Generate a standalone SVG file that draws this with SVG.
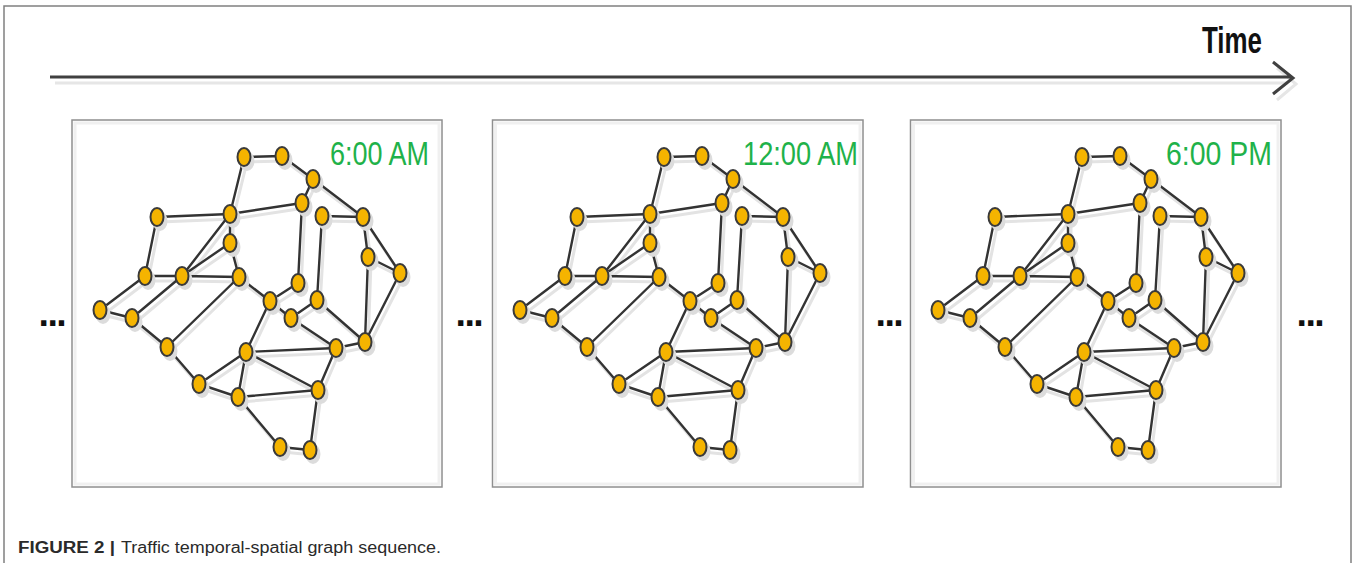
<svg xmlns="http://www.w3.org/2000/svg" xmlns:xlink="http://www.w3.org/1999/xlink" width="1359" height="563" viewBox="0 0 1359 563">
<style>
.frame{fill:none;stroke:#808080;stroke-width:1.5}
.panel{fill:#fff;stroke:#8f8f8f;stroke-width:1.5}
.panel-in{fill:none;stroke:#f0f0f0;stroke-width:3}
.edge{fill:none;stroke:#333;stroke-width:2.4;stroke-linecap:round}
.eshadow{fill:none;stroke:#e3e3e3;stroke-width:3;stroke-linecap:round}
.lbl{font-family:"Liberation Sans Narrow","Liberation Sans",sans-serif;font-size:34px;fill:#1fb24a}
.dots{font-family:"DejaVu Sans","Liberation Sans",sans-serif;font-weight:bold;font-size:30px;fill:#111;letter-spacing:-2.5px}
.time{font-family:"Liberation Sans Narrow","Liberation Sans",sans-serif;font-weight:bold;font-size:36px;fill:#111}
.cap{font-family:"Liberation Sans",Arial,sans-serif;font-size:16px;fill:#2a2a2a}
</style>
<defs>
<g id="nd">
<ellipse cx="3" cy="4" rx="7.5" ry="10" fill="#dcdcdc"/>
<ellipse cx="0" cy="0" rx="6.5" ry="9" fill="#f5b400" stroke="#3a3a3a" stroke-width="2"/>
</g>
<path id="edges" d="M244 157L282 156M244 157L230 214M282 156L313 179M313 179L302 203M313 179L363 217M157 217L230 214M230 214L302 203M302 203L298 283M322 216L363 217M322 216L317 300M363 217L368 257M363 217L400 273M368 257L400 273M368 257L365 342M400 273L365 342M157 217L145 276M145 276L182 276M182 276L239 277M182 276L230 214M182 276L230 243M230 214L230 243M230 243L239 277M239 277L270 301M145 276L100 310M100 310L132 318M182 276L132 318M132 318L167 347M167 347L239 277M167 347L199 384M199 384L246 352M199 384L238 397M246 352L270 301M246 352L238 397M246 352L336 348M246 352L318 390M238 397L318 390M238 397L280 447M280 447L310 450M310 450L318 390M318 390L336 348M336 348L365 342M291 318L336 348M317 300L365 342M317 300L291 318M270 301L298 283M270 301L291 318"/>
</defs>
<rect x="0" y="0" width="1359" height="563" fill="#fff"/>
<path class="frame" d="M4 563V6H1351V563"/>

<g id="time-axis">
<path d="M55 83H1288M1277 68L1296 84L1277 100" fill="none" stroke="#e6e6e6" stroke-width="3"/>
<path d="M50 77H1292M1273 62L1293 78L1273 94" fill="none" stroke="#404040" stroke-width="3"/>
<text class="time" x="1202" y="53" textLength="60" lengthAdjust="spacingAndGlyphs">Time</text>
</g>

<g id="panels">
<rect class="panel" x="72" y="120" width="370" height="367"/>
<rect class="panel-in" x="75" y="123" width="364" height="361"/>
<rect class="panel" x="492.5" y="120" width="370.5" height="367"/>
<rect class="panel-in" x="495.5" y="123" width="364.5" height="361"/>
<rect class="panel" x="910.5" y="120" width="370.5" height="367"/>
<rect class="panel-in" x="913.5" y="123" width="364.5" height="361"/>
</g>

<g id="connectors">
<use href="#edges" class="eshadow" transform="translate(3,5)"/>
<use href="#edges" class="edge"/>
<use href="#edges" class="eshadow" transform="translate(423,5)"/>
<use href="#edges" class="edge" transform="translate(420,0)"/>
<use href="#edges" class="eshadow" transform="translate(841,5)"/>
<use href="#edges" class="edge" transform="translate(838,0)"/>
</g>

<g id="graph-1">
<g id="p1-n1"><use href="#nd" x="244" y="157"/></g>
<g id="p1-n2"><use href="#nd" x="282" y="156"/></g>
<g id="p1-n3"><use href="#nd" x="313" y="179"/></g>
<g id="p1-n4"><use href="#nd" x="302" y="203"/></g>
<g id="p1-n5"><use href="#nd" x="322" y="216"/></g>
<g id="p1-n6"><use href="#nd" x="363" y="217"/></g>
<g id="p1-n7"><use href="#nd" x="368" y="257"/></g>
<g id="p1-n8"><use href="#nd" x="400" y="273"/></g>
<g id="p1-n9"><use href="#nd" x="157" y="217"/></g>
<g id="p1-n10"><use href="#nd" x="230" y="214"/></g>
<g id="p1-n11"><use href="#nd" x="230" y="243"/></g>
<g id="p1-n12"><use href="#nd" x="145" y="276"/></g>
<g id="p1-n13"><use href="#nd" x="182" y="276"/></g>
<g id="p1-n14"><use href="#nd" x="239" y="277"/></g>
<g id="p1-n15"><use href="#nd" x="298" y="283"/></g>
<g id="p1-n16"><use href="#nd" x="270" y="301"/></g>
<g id="p1-n17"><use href="#nd" x="317" y="300"/></g>
<g id="p1-n18"><use href="#nd" x="291" y="318"/></g>
<g id="p1-n19"><use href="#nd" x="100" y="310"/></g>
<g id="p1-n20"><use href="#nd" x="132" y="318"/></g>
<g id="p1-n21"><use href="#nd" x="167" y="347"/></g>
<g id="p1-n22"><use href="#nd" x="199" y="384"/></g>
<g id="p1-n23"><use href="#nd" x="238" y="397"/></g>
<g id="p1-n24"><use href="#nd" x="246" y="352"/></g>
<g id="p1-n25"><use href="#nd" x="336" y="348"/></g>
<g id="p1-n26"><use href="#nd" x="365" y="342"/></g>
<g id="p1-n27"><use href="#nd" x="318" y="390"/></g>
<g id="p1-n28"><use href="#nd" x="280" y="447"/></g>
<g id="p1-n29"><use href="#nd" x="310" y="450"/></g>
<text class="lbl" x="330" y="165" textLength="99" lengthAdjust="spacingAndGlyphs">6:00 AM</text>
</g>

<g id="graph-2" transform="translate(420,0)">
<g id="p2-n1"><use href="#nd" x="244" y="157"/></g>
<g id="p2-n2"><use href="#nd" x="282" y="156"/></g>
<g id="p2-n3"><use href="#nd" x="313" y="179"/></g>
<g id="p2-n4"><use href="#nd" x="302" y="203"/></g>
<g id="p2-n5"><use href="#nd" x="322" y="216"/></g>
<g id="p2-n6"><use href="#nd" x="363" y="217"/></g>
<g id="p2-n7"><use href="#nd" x="368" y="257"/></g>
<g id="p2-n8"><use href="#nd" x="400" y="273"/></g>
<g id="p2-n9"><use href="#nd" x="157" y="217"/></g>
<g id="p2-n10"><use href="#nd" x="230" y="214"/></g>
<g id="p2-n11"><use href="#nd" x="230" y="243"/></g>
<g id="p2-n12"><use href="#nd" x="145" y="276"/></g>
<g id="p2-n13"><use href="#nd" x="182" y="276"/></g>
<g id="p2-n14"><use href="#nd" x="239" y="277"/></g>
<g id="p2-n15"><use href="#nd" x="298" y="283"/></g>
<g id="p2-n16"><use href="#nd" x="270" y="301"/></g>
<g id="p2-n17"><use href="#nd" x="317" y="300"/></g>
<g id="p2-n18"><use href="#nd" x="291" y="318"/></g>
<g id="p2-n19"><use href="#nd" x="100" y="310"/></g>
<g id="p2-n20"><use href="#nd" x="132" y="318"/></g>
<g id="p2-n21"><use href="#nd" x="167" y="347"/></g>
<g id="p2-n22"><use href="#nd" x="199" y="384"/></g>
<g id="p2-n23"><use href="#nd" x="238" y="397"/></g>
<g id="p2-n24"><use href="#nd" x="246" y="352"/></g>
<g id="p2-n25"><use href="#nd" x="336" y="348"/></g>
<g id="p2-n26"><use href="#nd" x="365" y="342"/></g>
<g id="p2-n27"><use href="#nd" x="318" y="390"/></g>
<g id="p2-n28"><use href="#nd" x="280" y="447"/></g>
<g id="p2-n29"><use href="#nd" x="310" y="450"/></g>
<text class="lbl" x="323" y="165" textLength="115" lengthAdjust="spacingAndGlyphs">12:00 AM</text>
</g>

<g id="graph-3" transform="translate(838,0)">
<g id="p3-n1"><use href="#nd" x="244" y="157"/></g>
<g id="p3-n2"><use href="#nd" x="282" y="156"/></g>
<g id="p3-n3"><use href="#nd" x="313" y="179"/></g>
<g id="p3-n4"><use href="#nd" x="302" y="203"/></g>
<g id="p3-n5"><use href="#nd" x="322" y="216"/></g>
<g id="p3-n6"><use href="#nd" x="363" y="217"/></g>
<g id="p3-n7"><use href="#nd" x="368" y="257"/></g>
<g id="p3-n8"><use href="#nd" x="400" y="273"/></g>
<g id="p3-n9"><use href="#nd" x="157" y="217"/></g>
<g id="p3-n10"><use href="#nd" x="230" y="214"/></g>
<g id="p3-n11"><use href="#nd" x="230" y="243"/></g>
<g id="p3-n12"><use href="#nd" x="145" y="276"/></g>
<g id="p3-n13"><use href="#nd" x="182" y="276"/></g>
<g id="p3-n14"><use href="#nd" x="239" y="277"/></g>
<g id="p3-n15"><use href="#nd" x="298" y="283"/></g>
<g id="p3-n16"><use href="#nd" x="270" y="301"/></g>
<g id="p3-n17"><use href="#nd" x="317" y="300"/></g>
<g id="p3-n18"><use href="#nd" x="291" y="318"/></g>
<g id="p3-n19"><use href="#nd" x="100" y="310"/></g>
<g id="p3-n20"><use href="#nd" x="132" y="318"/></g>
<g id="p3-n21"><use href="#nd" x="167" y="347"/></g>
<g id="p3-n22"><use href="#nd" x="199" y="384"/></g>
<g id="p3-n23"><use href="#nd" x="238" y="397"/></g>
<g id="p3-n24"><use href="#nd" x="246" y="352"/></g>
<g id="p3-n25"><use href="#nd" x="336" y="348"/></g>
<g id="p3-n26"><use href="#nd" x="365" y="342"/></g>
<g id="p3-n27"><use href="#nd" x="318" y="390"/></g>
<g id="p3-n28"><use href="#nd" x="280" y="447"/></g>
<g id="p3-n29"><use href="#nd" x="310" y="450"/></g>
<text class="lbl" x="328" y="165" textLength="106" lengthAdjust="spacingAndGlyphs">6:00 PM</text>
</g>

<g id="ellipses">
<text class="dots" x="38" y="326">...</text>
<text class="dots" x="455" y="326">...</text>
<text class="dots" x="875" y="326">...</text>
<text class="dots" x="1296" y="326">...</text>
</g>

<g id="caption">
<text class="cap" x="18" y="553" font-weight="bold" textLength="97" lengthAdjust="spacingAndGlyphs">FIGURE 2 |</text>
<text class="cap" x="121" y="553" textLength="320" lengthAdjust="spacingAndGlyphs">Traffic temporal-spatial graph sequence.</text>
</g>
</svg>
